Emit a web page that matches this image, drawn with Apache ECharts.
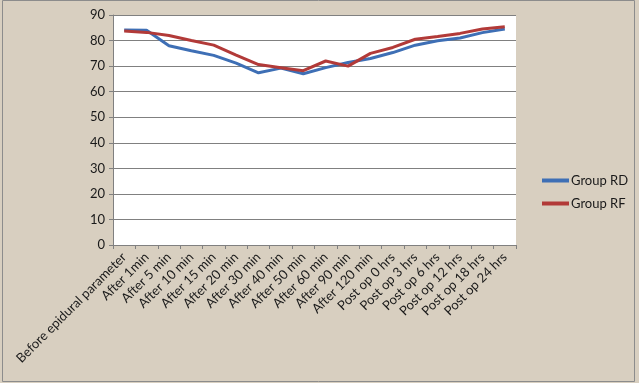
<!DOCTYPE html>
<html>
<head>
<meta charset="utf-8">
<script src="https://cdn.jsdelivr.net/npm/echarts@6/dist/echarts.min.js"></script>
<style>
  html, body { margin: 0; padding: 0; background: #d8cfc0; }
  #chart { width: 639px; height: 383px; }
</style>
</head>
<body>
<div id="chart"></div>
<script>
const categories = [
  'Before epidural parameter', 'After 1min', 'After 5 min', 'After 10 min',
  'After 15 min', 'After 20 min', 'After 30 min', 'After 40 min',
  'After 50 min', 'After 60 min', 'After 90 min', 'After 120 min',
  'Post op 0 hrs', 'Post op 3 hrs', 'Post op 6 hrs', 'Post op 12 hrs',
  'Post op 18 hrs', 'Post op 24 hrs'
];

const groupRD = [84.1, 84, 78, 76, 74.2, 71.2, 67.4, 69.2, 67, 69.4, 71.4, 73, 75.3, 78.2, 79.9, 81, 83.1, 84.5];
const groupRF = [83.7, 83.2, 82, 80, 78.2, 74.3, 70.6, 69.4, 68.2, 72, 70, 75, 77.3, 80.5, 81.6, 82.8, 84.5, 85.4];

const yTicks = { min: 0, max: 90, interval: 10 };

const chart = echarts.init(document.getElementById('chart'));

const labelFont = 'Lato, "Open Sans", sans-serif';

chart.setOption({
  backgroundColor: '#d8cfc0',
  animation: false,
  graphic: [
    {
      type: 'rect',
      shape: { x: 2.5, y: 0.5, width: 632, height: 381 },
      style: { fill: 'none', stroke: '#8c8c8c', lineWidth: 1 },
      silent: true
    }
  ],
  grid: {
    left: 113,
    right: 123,
    top: 15,
    bottom: 138,
    show: true,
    backgroundColor: '#ffffff',
    borderWidth: 0
  },
  legend: {
    orient: 'vertical',
    left: 537,
    top: 169,
    itemWidth: 27,
    itemHeight: 4,
    itemGap: 10,
    icon: 'rect',
    textStyle: { fontFamily: labelFont, fontSize: 13, color: '#1a1a1a', padding: [0, 0, 0, -3] },
    data: ['Group RD', 'Group RF']
  },
  xAxis: {
    type: 'category',
    data: categories,
    boundaryGap: true,
    axisLine: { lineStyle: { color: '#808080', width: 1 } },
    axisTick: { show: true, length: 4, lineStyle: { color: '#808080' } },
    axisLabel: {
      rotate: 45,
      interval: 0,
      margin: 10,
      fontFamily: labelFont,
      fontSize: 13,
      color: '#1a1a1a'
    }
  },
  yAxis: {
    type: 'value',
    min: yTicks.min,
    max: yTicks.max,
    interval: yTicks.interval,
    axisLine: { show: true, lineStyle: { color: '#808080', width: 1 } },
    axisTick: { show: true, length: 4, lineStyle: { color: '#808080' } },
    axisLabel: {
      margin: 8,
      fontFamily: labelFont,
      fontSize: 13,
      color: '#1a1a1a'
    },
    splitLine: { show: true, lineStyle: { color: '#808080', width: 1 } }
  },
  series: [
    {
      name: 'Group RD',
      type: 'line',
      data: groupRD,
      symbol: 'none',
      lineStyle: { color: '#3e6fb5', width: 3 },
      itemStyle: { color: '#3e6fb5' }
    },
    {
      name: 'Group RF',
      type: 'line',
      data: groupRF,
      symbol: 'none',
      lineStyle: { color: '#b23a38', width: 3 },
      itemStyle: { color: '#b23a38' }
    }
  ]
});
</script>
</body>
</html>
